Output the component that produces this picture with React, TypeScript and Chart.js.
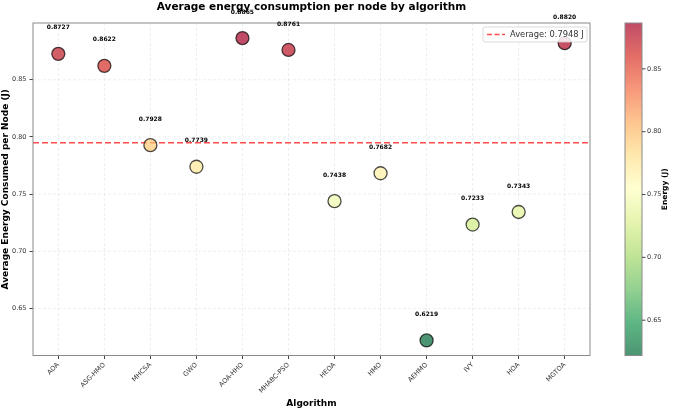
import React, { useEffect, useRef } from 'react';
import { Chart, registerables } from 'chart.js';
Chart.register(...registerables);

const algorithms = ['AOA', 'ASG-HMO', 'MHCSA', 'GWO', 'AOA-HHO', 'MHABC-PSO', 'HEOA', 'HMO', 'AEHMO', 'IVY', 'HOA', 'MGTOA'];
const energy = [0.8727, 0.8622, 0.7928, 0.7739, 0.8865, 0.8761, 0.7438, 0.7682, 0.6219, 0.7233, 0.7343, 0.882];
const yTicks = [0.65, 0.7, 0.75, 0.8, 0.85];
const colorbarTicks = [0.65, 0.7, 0.75, 0.8, 0.85];
const averageEnergy = 0.7948;
const yRange = [0.6087, 0.8997];
const xRange = [-0.55, 11.55];

const RDYLGN = ['#a50026', '#d73027', '#f46d43', '#fdae61', '#fee08b', '#ffffbf', '#d9ef8b', '#a6d96a', '#66bd63', '#1a9850', '#006837'];
const hex = (h: string) => [parseInt(h.slice(1, 3), 16), parseInt(h.slice(3, 5), 16), parseInt(h.slice(5, 7), 16)];
const STOPS = RDYLGN.slice().reverse().map(hex);
function cmap(t: number, alpha: number) {
  const tt = Math.max(0, Math.min(1, t)) * (STOPS.length - 1);
  const i = Math.min(Math.floor(tt), STOPS.length - 2);
  const f = tt - i;
  const c = STOPS[i].map((v, k) => Math.round(v + (STOPS[i + 1][k] - v) * f));
  return `rgba(${c[0]},${c[1]},${c[2]},${alpha})`;
}
const vmin = Math.min(...energy);
const vmax = Math.max(...energy);
const norm = (v: number) => (v - vmin) / (vmax - vmin);

const FONT = 'DejaVu Sans';

const decor = {
  id: 'decor',
  beforeDatasetsDraw(chart: any) {
    const { ctx, chartArea: a, scales } = chart;
    ctx.save();
    ctx.strokeStyle = 'rgba(0,0,0,0.09)';
    ctx.lineWidth = 0.8;
    ctx.setLineDash([3, 2]);
    scales.x.ticks.forEach((t: any) => {
      const x = scales.x.getPixelForValue(t.value);
      ctx.beginPath(); ctx.moveTo(x, a.top); ctx.lineTo(x, a.bottom); ctx.stroke();
    });
    scales.y.ticks.forEach((t: any) => {
      const y = scales.y.getPixelForValue(t.value);
      ctx.beginPath(); ctx.moveTo(a.left, y); ctx.lineTo(a.right, y); ctx.stroke();
    });
    ctx.restore();
  },
  afterDraw(chart: any) {
    const { ctx, chartArea: a } = chart;
    ctx.save();
    // frame
    ctx.strokeStyle = '#8a8a8a';
    ctx.lineWidth = 1;
    ctx.strokeRect(a.left, a.top, a.right - a.left, a.bottom - a.top);

    // value labels
    const meta = chart.getDatasetMeta(1);
    ctx.fillStyle = '#000';
    ctx.font = `bold 6px "${FONT}"`;
    ctx.textAlign = 'center';
    ctx.textBaseline = 'middle';
    meta.data.forEach((p: any, i: number) => {
      ctx.fillText(energy[i].toFixed(4), p.x, p.y - 26);
    });

    // title
    ctx.font = `bold 10.5px "${FONT}"`;
    ctx.fillText('Average energy consumption per node by algorithm', (a.left + a.right) / 2, 7);
    // x title
    ctx.font = `bold 9px "${FONT}"`;
    ctx.fillText('Algorithm', (a.left + a.right) / 2, 404);
    // y title
    ctx.save();
    ctx.translate(6, (a.top + a.bottom) / 2);
    ctx.rotate(-Math.PI / 2);
    ctx.fillText('Average Energy Consumed per Node (J)', 0, 0);
    ctx.restore();

    // legend
    const lx = 483, ly = 27, lw = 104, lh = 15;
    ctx.beginPath();
    ctx.roundRect(lx, ly, lw, lh, 2);
    ctx.fillStyle = 'rgba(255,255,255,0.85)';
    ctx.fill();
    ctx.strokeStyle = '#d0d0d0';
    ctx.lineWidth = 0.8;
    ctx.stroke();
    ctx.strokeStyle = 'rgba(255,0,0,0.7)';
    ctx.lineWidth = 1.5;
    ctx.setLineDash([5, 2.5]);
    ctx.beginPath(); ctx.moveTo(487, ly + lh / 2); ctx.lineTo(505, ly + lh / 2); ctx.stroke();
    ctx.setLineDash([]);
    ctx.fillStyle = '#333';
    ctx.font = `8.3px "${FONT}"`;
    ctx.textAlign = 'left';
    ctx.fillText(`Average: ${averageEnergy.toFixed(4)} J`, 510, ly + lh / 2 + 0.5);

    // colorbar
    const cx = 625, cw = 17, ct = a.top, cb = a.bottom;
    const grad = ctx.createLinearGradient(0, cb, 0, ct);
    STOPS.forEach((_, i) => grad.addColorStop(i / (STOPS.length - 1), cmap(i / (STOPS.length - 1), 0.7)));
    ctx.fillStyle = grad;
    ctx.fillRect(cx, ct, cw, cb - ct);
    ctx.strokeStyle = '#8a8a8a';
    ctx.lineWidth = 1;
    ctx.strokeRect(cx, ct, cw, cb - ct);
    ctx.fillStyle = '#333';
    ctx.strokeStyle = '#444';
    ctx.font = `6.5px "${FONT}"`;
    ctx.textAlign = 'left';
    colorbarTicks.forEach((v) => {
      const y = cb - norm(v) * (cb - ct);
      ctx.beginPath(); ctx.moveTo(cx + cw, y); ctx.lineTo(cx + cw + 3.5, y); ctx.stroke();
      ctx.fillText(v.toFixed(2), cx + cw + 5, y);
    });
    ctx.save();
    ctx.fillStyle = '#000';
    ctx.font = `bold 7.5px "${FONT}"`;
    ctx.textAlign = 'center';
    ctx.translate(665, (ct + cb) / 2);
    ctx.rotate(-Math.PI / 2);
    ctx.fillText('Energy (J)', 0, 0);
    ctx.restore();
    ctx.restore();
  },
};

export default function App() {
  const ref = useRef<HTMLCanvasElement>(null);
  useEffect(() => {
    document.body.style.margin = '0';
    Chart.defaults.font.family = FONT;
    const chart = new Chart(ref.current!, {
      type: 'scatter',
      data: {
        datasets: [
          {
            type: 'line',
            data: [{ x: xRange[0], y: averageEnergy }, { x: xRange[1], y: averageEnergy }],
            borderColor: 'rgba(255,0,0,0.7)',
            borderWidth: 1.5,
            borderDash: [6, 3],
            pointRadius: 0,
            order: 2,
          } as any,
          {
            data: energy.map((v, i) => ({ x: i, y: v })),
            backgroundColor: energy.map((v) => cmap(norm(v), 0.7)),
            borderColor: 'rgba(0,0,0,0.7)',
            borderWidth: 1.3,
            pointRadius: 6.5,
            order: 1,
          },
        ],
      },
      options: {
        animation: false,
        responsive: false,
        devicePixelRatio: 1,
        layout: { padding: { left: 0, top: 23, right: 84, bottom: 0 } },
        plugins: { legend: { display: false }, tooltip: { enabled: false }, title: { display: false } },
        scales: {
          x: {
            type: 'linear',
            min: xRange[0],
            max: xRange[1],
            afterBuildTicks: (s: any) => { s.ticks = algorithms.map((_, i) => ({ value: i })); },
            afterFit: (s: any) => { s.height = 54.5; },
            ticks: {
              autoSkip: false,
              maxRotation: 45,
              minRotation: 45,
              padding: 2,
              color: '#333',
              font: { size: 6.6, family: FONT },
              callback: (v: any) => algorithms[v as number] ?? '',
            },
            grid: { drawOnChartArea: false, drawTicks: true, tickLength: 3.5, tickColor: '#444' },
            border: { display: false },
          },
          y: {
            type: 'linear',
            min: yRange[0],
            max: yRange[1],
            afterBuildTicks: (s: any) => { s.ticks = yTicks.map((v) => ({ value: v })); },
            afterFit: (s: any) => { s.width = 33; },
            ticks: {
              padding: 3,
              color: '#333',
              font: { size: 6.5, family: FONT },
              callback: (v: any) => Number(v).toFixed(2),
            },
            grid: { drawOnChartArea: false, drawTicks: true, tickLength: 3.5, tickColor: '#444' },
            border: { display: false },
          },
        },
      },
      plugins: [decor],
    });
    return () => chart.destroy();
  }, []);
  return <canvas ref={ref} width={674} height={410} style={{ display: 'block', width: 674, height: 410 }} />;
}
